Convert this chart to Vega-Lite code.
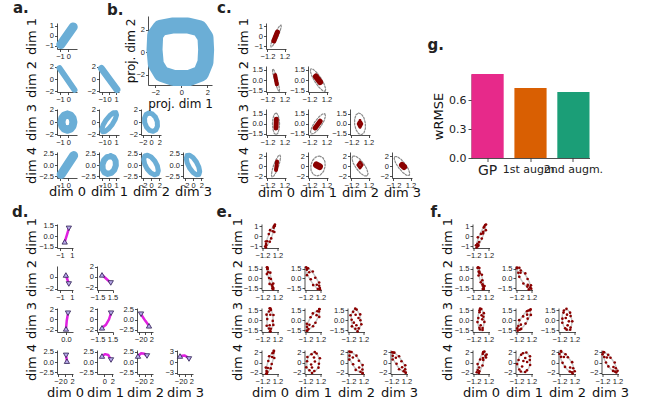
{
"$schema":"https://vega.github.io/schema/vega-lite/v6.json",
"background":"white",
"padding":{"left":12,"top":1,"right":2,"bottom":2},
"config":{
 "view":{"stroke":null},
 "axis":{"grid":false,"labelFont":"Liberation Sans","labelFontSize":7.5,"labelColor":"#222","labelPadding":1,"tickSize":2.5,"tickWidth":0.8,"tickColor":"#222","domainColor":"#222","domainWidth":0.8,"labelOverlap":false,"labelFlush":false,"titleFont":"DejaVu Sans","titleFontSize":13,"titleFontWeight":"normal","titleColor":"#111"},
 "title":{"font":"DejaVu Sans","fontSize":15,"fontWeight":"bold","color":"#222","anchor":"start","frame":"group","baseline":"alphabetic"},
 "line":{"strokeCap":"round","strokeJoin":"round"}
},
"datasets":{
 "A10":[{"o":0,"x":-0.9,"y":-0.9},{"o":1,"x":0.6,"y":0.9}],
 "A20":[{"o":0,"x":-1.05,"y":1.75},{"o":1,"x":0.75,"y":-1.75}],
 "A21":[{"o":0,"x":-1.1,"y":1.7},{"o":1,"x":1.1,"y":-1.7}],
 "A30":[{"o":0,"x":-0.1,"y":1.25},{"o":1,"x":0.26,"y":1.08},{"o":2,"x":0.52,"y":0.63},{"o":3,"x":0.62,"y":0},{"o":4,"x":0.52,"y":-0.63},{"o":5,"x":0.26,"y":-1.08},{"o":6,"x":-0.1,"y":-1.25},{"o":7,"x":-0.46,"y":-1.08},{"o":8,"x":-0.72,"y":-0.63},{"o":9,"x":-0.82,"y":0},{"o":10,"x":-0.72,"y":0.63},{"o":11,"x":-0.46,"y":1.08},{"o":12,"x":-0.1,"y":1.25}],
 "A31":[{"o":0,"x":0.95,"y":1.55},{"o":1,"x":1.05,"y":1.17},{"o":2,"x":0.86,"y":0.47},{"o":3,"x":0.45,"y":-0.35},{"o":4,"x":-0.09,"y":-1.08},{"o":5,"x":-0.6,"y":-1.52},{"o":6,"x":-0.95,"y":-1.55},{"o":7,"x":-1.05,"y":-1.17},{"o":8,"x":-0.86,"y":-0.47},{"o":9,"x":-0.45,"y":0.35},{"o":10,"x":0.09,"y":1.08},{"o":11,"x":0.6,"y":1.52},{"o":12,"x":0.95,"y":1.55}],
 "A32":[{"o":0,"x":-0.5,"y":1.5},{"o":1,"x":0.32,"y":1.35},{"o":2,"x":1.05,"y":0.84},{"o":3,"x":1.5,"y":0.1},{"o":4,"x":1.55,"y":-0.66},{"o":5,"x":1.18,"y":-1.25},{"o":6,"x":0.5,"y":-1.5},{"o":7,"x":-0.32,"y":-1.35},{"o":8,"x":-1.05,"y":-0.84},{"o":9,"x":-1.5,"y":-0.1},{"o":10,"x":-1.55,"y":0.66},{"o":11,"x":-1.18,"y":1.25},{"o":12,"x":-0.5,"y":1.5}],
 "A40":[{"o":0,"x":-0.85,"y":-2.1},{"o":1,"x":0.65,"y":2.1}],
 "A41":[{"o":0,"x":0.2,"y":2.0},{"o":1,"x":0.65,"y":1.68},{"o":2,"x":0.92,"y":0.91},{"o":3,"x":0.95,"y":-0.1},{"o":4,"x":0.72,"y":-1.09},{"o":5,"x":0.3,"y":-1.78},{"o":6,"x":-0.2,"y":-2.0},{"o":7,"x":-0.65,"y":-1.68},{"o":8,"x":-0.92,"y":-0.91},{"o":9,"x":-0.95,"y":0.1},{"o":10,"x":-0.72,"y":1.09},{"o":11,"x":-0.3,"y":1.78},{"o":12,"x":0.2,"y":2.0}],
 "A42":[{"o":0,"x":-1.5,"y":2.0},{"o":1,"x":-0.85,"y":2.18},{"o":2,"x":0.03,"y":1.78},{"o":3,"x":0.9,"y":0.9},{"o":4,"x":1.53,"y":-0.22},{"o":5,"x":1.75,"y":-1.28},{"o":6,"x":1.5,"y":-2.0},{"o":7,"x":0.85,"y":-2.18},{"o":8,"x":-0.03,"y":-1.78},{"o":9,"x":-0.9,"y":-0.9},{"o":10,"x":-1.53,"y":0.22},{"o":11,"x":-1.75,"y":1.28},{"o":12,"x":-1.5,"y":2.0}],
 "A43":[{"o":0,"x":-1.4,"y":2.1},{"o":1,"x":-0.81,"y":2.17},{"o":2,"x":-0.01,"y":1.66},{"o":3,"x":0.8,"y":0.7},{"o":4,"x":1.39,"y":-0.44},{"o":5,"x":1.61,"y":-1.47},{"o":6,"x":1.4,"y":-2.1},{"o":7,"x":0.81,"y":-2.17},{"o":8,"x":0.01,"y":-1.66},{"o":9,"x":-0.8,"y":-0.7},{"o":10,"x":-1.39,"y":0.44},{"o":11,"x":-1.61,"y":1.47},{"o":12,"x":-1.4,"y":2.1}],
 "B":[{"o":0,"x":-2.0,"y":1.5},{"o":1,"x":-1.6,"y":2.15},{"o":2,"x":-0.7,"y":2.35},{"o":3,"x":0.5,"y":2.35},{"o":4,"x":1.4,"y":2.1},{"o":5,"x":1.85,"y":1.3},{"o":6,"x":1.9,"y":0.2},{"o":7,"x":1.85,"y":-0.9},{"o":8,"x":1.5,"y":-1.9},{"o":9,"x":0.6,"y":-2.3},{"o":10,"x":-0.6,"y":-2.3},{"o":11,"x":-1.5,"y":-1.95},{"o":12,"x":-1.95,"y":-1.1},{"o":13,"x":-2.05,"y":0.2},{"o":14,"x":-2.0,"y":1.5}],
 "G":[{"m":"GP","v":0.869},{"m":"1st augm.","v":0.724},{"m":"2nd augm.","v":0.683}],
 "E10":[{"o":0,"x":0.7,"y":1.1},{"o":1,"x":0.73,"y":0.91},{"o":2,"x":0.57,"y":0.48},{"o":3,"x":0.25,"y":-0.08},{"o":4,"x":-0.13,"y":-0.62},{"o":5,"x":-0.48,"y":-0.99},{"o":6,"x":-0.7,"y":-1.1},{"o":7,"x":-0.73,"y":-0.91},{"o":8,"x":-0.57,"y":-0.48},{"o":9,"x":-0.25,"y":0.08},{"o":10,"x":0.13,"y":0.62},{"o":11,"x":0.48,"y":0.99},{"o":12,"x":0.7,"y":1.1}],
 "E20":[{"o":0,"x":0.45,"y":-1.6},{"o":1,"x":0.49,"y":-1.36},{"o":2,"x":0.4,"y":-0.75},{"o":3,"x":0.2,"y":0.06},{"o":4,"x":-0.05,"y":0.85},{"o":5,"x":-0.29,"y":1.42},{"o":6,"x":-0.45,"y":1.6},{"o":7,"x":-0.49,"y":1.36},{"o":8,"x":-0.4,"y":0.75},{"o":9,"x":-0.2,"y":-0.06},{"o":10,"x":0.05,"y":-0.85},{"o":11,"x":0.29,"y":-1.42},{"o":12,"x":0.45,"y":-1.6}],
 "E21":[{"o":0,"x":1.0,"y":-1.6},{"o":1,"x":1.08,"y":-1.26},{"o":2,"x":0.86,"y":-0.58},{"o":3,"x":0.42,"y":0.26},{"o":4,"x":-0.14,"y":1.03},{"o":5,"x":-0.66,"y":1.52},{"o":6,"x":-1.0,"y":1.6},{"o":7,"x":-1.08,"y":1.26},{"o":8,"x":-0.86,"y":0.58},{"o":9,"x":-0.42,"y":-0.26},{"o":10,"x":0.14,"y":-1.03},{"o":11,"x":0.66,"y":-1.52},{"o":12,"x":1.0,"y":-1.6}],
 "E30":[{"o":0,"x":0,"y":1.6},{"o":1,"x":0.25,"y":1.39},{"o":2,"x":0.43,"y":0.8},{"o":3,"x":0.5,"y":0},{"o":4,"x":0.43,"y":-0.8},{"o":5,"x":0.25,"y":-1.39},{"o":6,"x":0,"y":-1.6},{"o":7,"x":-0.25,"y":-1.39},{"o":8,"x":-0.43,"y":-0.8},{"o":9,"x":-0.5,"y":0},{"o":10,"x":-0.43,"y":0.8},{"o":11,"x":-0.25,"y":1.39},{"o":12,"x":0,"y":1.6}],
 "E31":[{"o":0,"x":0.95,"y":1.5},{"o":1,"x":1.05,"y":1.16},{"o":2,"x":0.87,"y":0.51},{"o":3,"x":0.45,"y":-0.28},{"o":4,"x":-0.09,"y":-0.99},{"o":5,"x":-0.6,"y":-1.44},{"o":6,"x":-0.95,"y":-1.5},{"o":7,"x":-1.05,"y":-1.16},{"o":8,"x":-0.87,"y":-0.51},{"o":9,"x":-0.45,"y":0.28},{"o":10,"x":0.09,"y":0.99},{"o":11,"x":0.6,"y":1.44},{"o":12,"x":0.95,"y":1.5}],
 "E32":[{"o":0,"x":-0.2,"y":1.6},{"o":1,"x":0.2,"y":1.44},{"o":2,"x":0.55,"y":0.89},{"o":3,"x":0.75,"y":0.1},{"o":4,"x":0.75,"y":-0.71},{"o":5,"x":0.55,"y":-1.34},{"o":6,"x":0.2,"y":-1.6},{"o":7,"x":-0.2,"y":-1.44},{"o":8,"x":-0.55,"y":-0.89},{"o":9,"x":-0.75,"y":-0.1},{"o":10,"x":-0.75,"y":0.71},{"o":11,"x":-0.55,"y":1.34},{"o":12,"x":-0.2,"y":1.6}],
 "E40":[{"o":0,"x":0.55,"y":2.2},{"o":1,"x":0.64,"y":1.83},{"o":2,"x":0.56,"y":0.96},{"o":3,"x":0.33,"y":-0.16},{"o":4,"x":0.01,"y":-1.24},{"o":5,"x":-0.31,"y":-1.99},{"o":6,"x":-0.55,"y":-2.2},{"o":7,"x":-0.64,"y":-1.83},{"o":8,"x":-0.56,"y":-0.96},{"o":9,"x":-0.33,"y":0.16},{"o":10,"x":-0.01,"y":1.24},{"o":11,"x":0.31,"y":1.99},{"o":12,"x":0.55,"y":2.2}],
 "E41":[{"o":0,"x":0.2,"y":2.0},{"o":1,"x":0.67,"y":1.68},{"o":2,"x":0.97,"y":0.91},{"o":3,"x":1.0,"y":-0.1},{"o":4,"x":0.77,"y":-1.09},{"o":5,"x":0.33,"y":-1.78},{"o":6,"x":-0.2,"y":-2.0},{"o":7,"x":-0.67,"y":-1.68},{"o":8,"x":-0.97,"y":-0.91},{"o":9,"x":-1.0,"y":0.1},{"o":10,"x":-0.77,"y":1.09},{"o":11,"x":-0.33,"y":1.78},{"o":12,"x":0.2,"y":2.0}],
 "E42":[{"o":0,"x":-1.0,"y":2.0},{"o":1,"x":-0.61,"y":1.97},{"o":2,"x":-0.05,"y":1.42},{"o":3,"x":0.52,"y":0.48},{"o":4,"x":0.95,"y":-0.58},{"o":5,"x":1.13,"y":-1.49},{"o":6,"x":1.0,"y":-2.0},{"o":7,"x":0.61,"y":-1.97},{"o":8,"x":0.05,"y":-1.42},{"o":9,"x":-0.52,"y":-0.48},{"o":10,"x":-0.95,"y":0.58},{"o":11,"x":-1.13,"y":1.49},{"o":12,"x":-1.0,"y":2.0}],
 "E43":[{"o":0,"x":-1.0,"y":1.9},{"o":1,"x":-0.64,"y":1.85},{"o":2,"x":-0.11,"y":1.3},{"o":3,"x":0.45,"y":0.4},{"o":4,"x":0.89,"y":-0.6},{"o":5,"x":1.09,"y":-1.45},{"o":6,"x":1.0,"y":-1.9},{"o":7,"x":0.64,"y":-1.85},{"o":8,"x":0.11,"y":-1.3},{"o":9,"x":-0.45,"y":-0.4},{"o":10,"x":-0.89,"y":0.6},{"o":11,"x":-1.09,"y":1.45},{"o":12,"x":-1.0,"y":1.9}],
 "C10":[{"o":0,"x":-0.3,"y":-0.5},{"o":1,"x":0.2,"y":0.4}],
 "C20":[{"o":0,"x":-0.12,"y":0.7},{"o":1,"x":0.12,"y":-0.6}],
 "C21":[{"o":0,"x":-0.3,"y":0.5},{"o":1,"x":0.3,"y":-0.3}],
 "C30":[{"o":0,"x":0,"y":-0.6},{"o":1,"x":0.05,"y":0.7}],
 "C31":[{"o":0,"x":-0.4,"y":-0.6},{"o":1,"x":0.3,"y":0.4}],
 "C32":[{"o":0,"x":0,"y":0.5},{"o":1,"x":0.25,"y":0},{"o":2,"x":0,"y":-0.5},{"o":3,"x":-0.25,"y":0},{"o":4,"x":0,"y":0.5}],
 "C40":[{"o":0,"x":0,"y":-0.8},{"o":1,"x":0.15,"y":0.9}],
 "C41":[{"o":0,"x":-0.2,"y":0.2},{"o":1,"x":0.2,"y":-0.1}],
 "C42":[{"o":0,"x":0,"y":0.8},{"o":1,"x":0.3,"y":0.2},{"o":2,"x":0,"y":-0.4},{"o":3,"x":-0.3,"y":0.2},{"o":4,"x":0,"y":0.8}],
 "C43":[{"o":0,"x":0,"y":0.2},{"o":1,"x":0.3,"y":-0.2}],
 "S10":[{"x":0.78,"y":1.2},{"x":0.63,"y":1.03},{"x":0.69,"y":0.43},{"x":0.19,"y":-0.22},{"x":-0.03,"y":-0.56},{"x":-0.6,"y":-0.91},{"x":-0.65,"y":-1.15},{"x":-0.63,"y":-0.79},{"x":-0.67,"y":-0.54},{"x":-0.19,"y":0.22},{"x":0.01,"y":0.62},{"x":0.58,"y":0.87},{"x":0.44,"y":0.51},{"x":-0.44,"y":-0.51},{"x":0.76,"y":1.05},{"x":-0.76,"y":-1.05}],
 "S20":[{"x":0.53,"y":-1.5},{"x":0.39,"y":-1.24},{"x":0.52,"y":-0.8},{"x":0.14,"y":-0.08},{"x":0.05,"y":0.91},{"x":-0.41,"y":1.5},{"x":-0.4,"y":1.7},{"x":-0.39,"y":1.48},{"x":-0.5,"y":0.69},{"x":-0.14,"y":0.08},{"x":-0.07,"y":-0.85},{"x":0.39,"y":-1.54},{"x":0.3,"y":-0.98},{"x":-0.3,"y":0.98},{"x":0.49,"y":-1.7},{"x":-0.49,"y":1.75}],
 "S21":[{"x":1.08,"y":-1.5},{"x":0.98,"y":-1.14},{"x":0.98,"y":-0.63},{"x":0.36,"y":0.12},{"x":-0.04,"y":1.09},{"x":-0.78,"y":1.6},{"x":-0.95,"y":1.5},{"x":-0.98,"y":1.38},{"x":-0.96,"y":0.52},{"x":-0.36,"y":-0.12},{"x":0.02,"y":-1.03},{"x":0.76,"y":-1.64},{"x":0.6,"y":-0.98},{"x":-0.6,"y":0.98},{"x":1.1,"y":-1.7},{"x":-1.08,"y":1.75}],
 "S30":[{"x":0.08,"y":1.7},{"x":0.15,"y":1.51},{"x":0.55,"y":0.75},{"x":0.44,"y":-0.14},{"x":0.53,"y":-0.74},{"x":0.13,"y":-1.31},{"x":0.05,"y":-1.7},{"x":-0.15,"y":-1.27},{"x":-0.53,"y":-0.86},{"x":-0.44,"y":0.14},{"x":-0.55,"y":0.8},{"x":-0.15,"y":1.27},{"x":0.05,"y":0.78},{"x":-0.05,"y":-0.78},{"x":-0.05,"y":1.75},{"x":0.02,"y":-1.68}],
 "S31":[{"x":1.03,"y":1.6},{"x":0.95,"y":1.28},{"x":0.99,"y":0.46},{"x":0.39,"y":-0.42},{"x":0.01,"y":-0.93},{"x":-0.72,"y":-1.36},{"x":-0.9,"y":-1.6},{"x":-0.95,"y":-1.04},{"x":-0.97,"y":-0.57},{"x":-0.39,"y":0.42},{"x":-0.03,"y":0.99},{"x":0.7,"y":1.32},{"x":0.57,"y":0.73},{"x":-0.57,"y":-0.73},{"x":1.0,"y":1.65},{"x":-1.0,"y":-1.62}],
 "S32":[{"x":-0.12,"y":1.7},{"x":0.1,"y":1.56},{"x":0.67,"y":0.84},{"x":0.69,"y":-0.04},{"x":0.85,"y":-0.65},{"x":0.43,"y":-1.26},{"x":0.25,"y":-1.7},{"x":-0.1,"y":-1.32},{"x":-0.65,"y":-0.95},{"x":-0.69,"y":0.04},{"x":-0.87,"y":0.71},{"x":-0.45,"y":1.22},{"x":-0.06,"y":0.78},{"x":0.06,"y":-0.78},{"x":0.4,"y":0.3},{"x":-0.35,"y":-0.4}],
 "S40":[{"x":0.63,"y":2.3},{"x":0.54,"y":1.95},{"x":0.68,"y":0.91},{"x":0.27,"y":-0.3},{"x":0.11,"y":-1.18},{"x":-0.43,"y":-1.91},{"x":-0.5,"y":-2.25},{"x":-0.54,"y":-1.71},{"x":-0.66,"y":-1.02},{"x":-0.27,"y":0.3},{"x":-0.13,"y":1.24},{"x":0.41,"y":1.87},{"x":0.35,"y":1.11},{"x":-0.35,"y":-1.11},{"x":0.6,"y":2.35},{"x":-0.59,"y":-2.2}],
 "S41":[{"x":0.28,"y":2.1},{"x":0.57,"y":1.8},{"x":1.09,"y":0.86},{"x":0.94,"y":-0.24},{"x":0.87,"y":-1.03},{"x":0.21,"y":-1.7},{"x":-0.15,"y":-2.1},{"x":-0.57,"y":-1.56},{"x":-1.07,"y":-0.97},{"x":-0.94,"y":0.24},{"x":-0.89,"y":1.09},{"x":-0.23,"y":1.66},{"x":0.16,"y":1.0},{"x":-0.16,"y":-1.0},{"x":0.3,"y":0.2},{"x":-0.3,"y":-0.4}],
 "S42":[{"x":-0.92,"y":2.1},{"x":-0.71,"y":2.09},{"x":0.07,"y":1.37},{"x":0.46,"y":0.34},{"x":1.05,"y":-0.52},{"x":1.01,"y":-1.41},{"x":1.05,"y":-2.1},{"x":0.71,"y":-1.85},{"x":-0.05,"y":-1.48},{"x":-0.46,"y":-0.34},{"x":-1.07,"y":0.58},{"x":-1.03,"y":1.37},{"x":-0.5,"y":1.0},{"x":0.5,"y":-1.0},{"x":-1.05,"y":2.2},{"x":1.05,"y":-2.2}],
 "S43":[{"x":-0.92,"y":2.0},{"x":-0.74,"y":1.97},{"x":0.01,"y":1.25},{"x":0.39,"y":0.26},{"x":0.99,"y":-0.54},{"x":0.97,"y":-1.37},{"x":1.05,"y":-2.0},{"x":0.74,"y":-1.73},{"x":0.01,"y":-1.36},{"x":-0.39,"y":-0.26},{"x":-1.01,"y":0.6},{"x":-0.99,"y":1.33},{"x":-0.5,"y":0.95},{"x":0.5,"y":-0.95},{"x":-1.08,"y":2.05},{"x":1.08,"y":-2.05}],
 "T10":[{"x":0.66,"y":1.14},{"x":0.77,"y":0.62},{"x":0.32,"y":0.29},{"x":0.12,"y":-0.24},{"x":-0.42,"y":-0.91},{"x":-0.49,"y":-1.02},{"x":-0.79,"y":-0.92},{"x":-0.57,"y":-0.77},{"x":-0.5,"y":-0.11},{"x":-0.01,"y":0.24},{"x":0.44,"y":0.88},{"x":0.51,"y":0.98},{"x":0.35,"y":0.45},{"x":-0.3,"y":-0.6},{"x":0.8,"y":1.2},{"x":-0.7,"y":-1.15}],
 "T20":[{"x":0.41,"y":-1.43},{"x":0.56,"y":-1.19},{"x":0.21,"y":-0.28},{"x":0.14,"y":0.59},{"x":-0.28,"y":1.09},{"x":-0.26,"y":1.62},{"x":-0.54,"y":1.65},{"x":-0.36,"y":1.04},{"x":-0.39,"y":0.46},{"x":-0.03,"y":-0.59},{"x":0.3,"y":-1.12},{"x":0.28,"y":-1.66},{"x":0.25,"y":-0.9},{"x":-0.2,"y":0.8},{"x":0.45,"y":-1.65},{"x":-0.45,"y":1.75}],
 "T21":[{"x":1.0,"y":-1.38},{"x":1.1,"y":-1.05},{"x":0.57,"y":-0.08},{"x":0.21,"y":0.79},{"x":-0.51,"y":1.24},{"x":-0.74,"y":1.67},{"x":-1.13,"y":1.6},{"x":-0.9,"y":0.9},{"x":-0.75,"y":0.26},{"x":-0.1,"y":-0.79},{"x":0.53,"y":-1.27},{"x":0.76,"y":-1.71},{"x":0.6,"y":-1.0},{"x":-0.55,"y":0.9},{"x":1.15,"y":-1.6},{"x":-1.1,"y":1.7}],
 "T30":[{"x":0.05,"y":1.65},{"x":0.45,"y":1.03},{"x":0.38,"y":0.49},{"x":0.54,"y":-0.29},{"x":0.25,"y":-1.21},{"x":0.25,"y":-1.49},{"x":-0.18,"y":-1.43},{"x":-0.25,"y":-1.18},{"x":-0.56,"y":-0.31},{"x":-0.43,"y":0.29},{"x":-0.23,"y":1.18},{"x":-0.23,"y":1.45},{"x":0.1,"y":0.7},{"x":-0.05,"y":-0.8},{"x":0.2,"y":0.1},{"x":-0.15,"y":1.7}],
 "T31":[{"x":0.95,"y":1.48},{"x":1.09,"y":0.76},{"x":0.58,"y":0.2},{"x":0.25,"y":-0.54},{"x":-0.45,"y":-1.34},{"x":-0.68,"y":-1.46},{"x":-1.08,"y":-1.26},{"x":-0.89,"y":-0.91},{"x":-0.76,"y":-0.02},{"x":-0.14,"y":0.54},{"x":0.47,"y":1.31},{"x":0.7,"y":1.42},{"x":0.5,"y":0.8},{"x":-0.5,"y":-0.7},{"x":1.05,"y":1.6},{"x":-1.0,"y":-1.6}],
 "T32":[{"x":-0.08,"y":1.67},{"x":0.49,"y":1.1},{"x":0.57,"y":0.59},{"x":0.84,"y":-0.2},{"x":0.57,"y":-1.14},{"x":0.51,"y":-1.46},{"x":-0.05,"y":-1.45},{"x":-0.29,"y":-1.25},{"x":-0.75,"y":-0.41},{"x":-0.73,"y":0.2},{"x":-0.55,"y":1.11},{"x":-0.49,"y":1.42},{"x":0.0,"y":0.8},{"x":0.1,"y":-0.8},{"x":-0.2,"y":0.3},{"x":0.3,"y":-0.2}],
 "T40":[{"x":0.54,"y":2.18},{"x":0.72,"y":1.34},{"x":0.36,"y":0.5},{"x":0.24,"y":-0.61},{"x":-0.26,"y":-1.75},{"x":-0.33,"y":-2.11},{"x":-0.67,"y":-1.96},{"x":-0.52,"y":-1.49},{"x":-0.54,"y":-0.32},{"x":-0.13,"y":0.61},{"x":0.28,"y":1.72},{"x":0.35,"y":2.07},{"x":0.8,"y":1.0},{"x":0.9,"y":1.6},{"x":-0.3,"y":-1.0},{"x":0.3,"y":0.9}],
 "T41":[{"x":0.37,"y":2.01},{"x":0.95,"y":1.24},{"x":0.92,"y":0.5},{"x":0.97,"y":-0.5},{"x":0.47,"y":-1.57},{"x":0.19,"y":-1.9},{"x":-0.5,"y":-1.79},{"x":-0.75,"y":-1.39},{"x":-1.1,"y":-0.32},{"x":-0.86,"y":0.5},{"x":-0.45,"y":1.54},{"x":-0.17,"y":1.86},{"x":0.2,"y":0.9},{"x":-0.3,"y":-0.8},{"x":0.5,"y":0.1},{"x":-0.1,"y":0.3}],
 "T42":[{"x":-0.91,"y":2.16},{"x":-0.24,"y":1.65},{"x":0.14,"y":1.06},{"x":0.82,"y":0.07},{"x":0.98,"y":-1.16},{"x":1.22,"y":-1.75},{"x":0.78,"y":-1.94},{"x":0.44,"y":-1.8},{"x":-0.32,"y":-0.88},{"x":-0.71,"y":-0.07},{"x":-0.96,"y":1.13},{"x":-1.2,"y":1.71},{"x":-0.5,"y":1.1},{"x":0.5,"y":-1.0},{"x":-0.95,"y":2.3},{"x":0.9,"y":-2.2}],
 "T43":[{"x":-0.93,"y":2.04},{"x":-0.29,"y":1.53},{"x":0.08,"y":0.96},{"x":0.75,"y":0.01},{"x":0.93,"y":-1.14},{"x":1.2,"y":-1.67},{"x":0.8,"y":-1.82},{"x":0.49,"y":-1.68},{"x":-0.26,"y":-0.78},{"x":-0.64,"y":-0.01},{"x":-0.91,"y":1.11},{"x":-1.18,"y":1.63},{"x":-0.5,"y":1.0},{"x":0.55,"y":-0.9},{"x":-1.05,"y":2.1},{"x":1.0,"y":-2.0}],
 "D10":[{"o":0,"m":"s","x":-0.2,"y":-0.8},{"o":1,"m":"","x":0.15,"y":0.1},{"o":2,"m":"e","x":0.5,"y":1.05}],
 "D20":[{"o":0,"m":"s","x":0.0,"y":0.3},{"o":1,"m":"","x":0.25,"y":-0.45},{"o":2,"m":"e","x":0.5,"y":-1.2}],
 "D21":[{"o":0,"m":"s","x":-0.6,"y":0.4},{"o":1,"m":"","x":0.25,"y":-0.35},{"o":2,"m":"e","x":1.15,"y":-1.15}],
 "D30":[{"o":0,"m":"s","x":0.0,"y":-1.8},{"o":1,"m":"","x":0.07,"y":-0.3},{"o":2,"m":"e","x":0.2,"y":1.2}],
 "D31":[{"o":0,"m":"s","x":-0.6,"y":-1.6},{"o":1,"m":"","x":0.2,"y":-1.0},{"o":2,"m":"","x":0.8,"y":0.0},{"o":3,"m":"e","x":1.2,"y":1.2}],
 "D32":[{"o":0,"m":"s","x":1.25,"y":-1.5},{"o":1,"m":"","x":0.1,"y":-0.3},{"o":2,"m":"e","x":-1.25,"y":1.3}],
 "D40":[{"o":0,"m":"s","x":0.55,"y":0.2},{"o":1,"m":"e","x":0.3,"y":1.6}],
 "D41":[{"o":0,"m":"s","x":-0.62,"y":1.45},{"o":1,"m":"","x":0.2,"y":1.9},{"o":2,"m":"","x":1.0,"y":1.7},{"o":3,"m":"e","x":1.69,"y":0.48}],
 "D42":[{"o":0,"m":"s","x":-2.19,"y":1.45},{"o":1,"m":"","x":-1.2,"y":2.1},{"o":2,"m":"","x":-0.2,"y":2.0},{"o":3,"m":"e","x":0.63,"y":1.45}],
 "D43":[{"o":0,"m":"s","x":-1.56,"y":1.65},{"o":1,"m":"","x":-0.2,"y":1.8},{"o":2,"m":"","x":0.6,"y":1.4},{"o":3,"m":"e","x":1.25,"y":0.83}]
},
"vconcat":[
 {"hconcat":[
  {"hconcat":[
   {"vconcat":[
    {"width":1,"height":1,"title":{"text":"a.","dx":-44,"offset":0},"data":{"values":[{}]},"mark":{"type":"point","opacity":0,"size":0}},
    {"concat":[
    {"width":20,"height":26,"data":{"name":"A10"},"mark":{"type":"line","color":"#6baed6","strokeWidth":9},"encoding":{"x":{"field":"x","type":"quantitative","scale":{"domain":[-1.35,1.05]},"axis":{"values":[-1,0],"format":".0f","title":null}},"y":{"field":"y","type":"quantitative","scale":{"domain":[-1.35,1.3]},"axis":{"values":[-1,0,1],"format":".0f","title":"dim 1","titleX":-19}},"order":{"field":"o"}}},
    {"width":20,"height":26,"data":{"values":[{}]},"mark":{"type":"point","opacity":0,"size":0}},
    {"width":20,"height":26,"data":{"values":[{}]},"mark":{"type":"point","opacity":0,"size":0}},
    {"width":20,"height":26,"data":{"values":[{}]},"mark":{"type":"point","opacity":0,"size":0}},
    {"width":20,"height":26,"data":{"name":"A20"},"mark":{"type":"line","color":"#6baed6","strokeWidth":6},"encoding":{"x":{"field":"x","type":"quantitative","scale":{"domain":[-1.35,1.05]},"axis":{"values":[-1,0],"format":".0f","title":null}},"y":{"field":"y","type":"quantitative","scale":{"domain":[-2.1,2.1]},"axis":{"values":[-2,0,2],"format":".0f","title":"dim 2","titleX":-19}},"order":{"field":"o"}}},
    {"width":20,"height":26,"data":{"name":"A21"},"mark":{"type":"line","color":"#6baed6","strokeWidth":7},"encoding":{"x":{"field":"x","type":"quantitative","scale":{"domain":[-1.45,1.4]},"axis":{"values":[-1,0,1],"format":".0f","title":null}},"y":{"field":"y","type":"quantitative","scale":{"domain":[-2.1,2.1]},"axis":{"values":[-2,0,2],"format":".0f","title":null}},"order":{"field":"o"}}},
    {"width":20,"height":26,"data":{"values":[{}]},"mark":{"type":"point","opacity":0,"size":0}},
    {"width":20,"height":26,"data":{"values":[{}]},"mark":{"type":"point","opacity":0,"size":0}},
    {"width":20,"height":26,"data":{"name":"A30"},"mark":{"type":"line","color":"#6baed6","strokeWidth":8},"encoding":{"x":{"field":"x","type":"quantitative","scale":{"domain":[-1.35,1.05]},"axis":{"values":[-1,0],"format":".0f","title":null}},"y":{"field":"y","type":"quantitative","scale":{"domain":[-2.1,2.15]},"axis":{"values":[-2,0,2],"format":".0f","title":"dim 3","titleX":-19}},"order":{"field":"o"}}},
    {"width":20,"height":26,"data":{"name":"A31"},"mark":{"type":"line","color":"#6baed6","strokeWidth":5},"encoding":{"x":{"field":"x","type":"quantitative","scale":{"domain":[-1.45,1.4]},"axis":{"values":[-1,0,1],"format":".0f","title":null}},"y":{"field":"y","type":"quantitative","scale":{"domain":[-2.1,2.15]},"axis":{"values":[-2,0,2],"format":".0f","title":null}},"order":{"field":"o"}}},
    {"width":20,"height":26,"data":{"name":"A32"},"mark":{"type":"line","color":"#6baed6","strokeWidth":5},"encoding":{"x":{"field":"x","type":"quantitative","scale":{"domain":[-2.4,2.4]},"axis":{"values":[-2,0,2],"format":".0f","title":null}},"y":{"field":"y","type":"quantitative","scale":{"domain":[-2.1,2.15]},"axis":{"values":[-2,0,2],"format":".0f","title":null}},"order":{"field":"o"}}},
    {"width":20,"height":26,"data":{"values":[{}]},"mark":{"type":"point","opacity":0,"size":0}},
    {"width":20,"height":26,"data":{"name":"A40"},"mark":{"type":"line","color":"#6baed6","strokeWidth":9},"encoding":{"x":{"field":"x","type":"quantitative","scale":{"domain":[-1.35,1.05]},"axis":{"values":[-1,0],"format":".0f","title":"dim 0","titleY":7.5}},"y":{"field":"y","type":"quantitative","scale":{"domain":[-2.9,2.9]},"axis":{"values":[-2.5,0,2.5],"format":".1f","title":"dim 4","titleX":-19}},"order":{"field":"o"}}},
    {"width":20,"height":26,"data":{"name":"A41"},"mark":{"type":"line","color":"#6baed6","strokeWidth":6},"encoding":{"x":{"field":"x","type":"quantitative","scale":{"domain":[-1.45,1.4]},"axis":{"values":[-1,0,1],"format":".0f","title":"dim 1","titleY":7.5}},"y":{"field":"y","type":"quantitative","scale":{"domain":[-2.9,2.9]},"axis":{"values":[-2.5,0,2.5],"format":".1f","title":null}},"order":{"field":"o"}}},
    {"width":20,"height":26,"data":{"name":"A42"},"mark":{"type":"line","color":"#6baed6","strokeWidth":5},"encoding":{"x":{"field":"x","type":"quantitative","scale":{"domain":[-2.4,2.4]},"axis":{"values":[-2,0,2],"format":".0f","title":"dim 2","titleY":7.5}},"y":{"field":"y","type":"quantitative","scale":{"domain":[-2.9,2.9]},"axis":{"values":[-2.5,0,2.5],"format":".1f","title":null}},"order":{"field":"o"}}},
    {"width":20,"height":26,"data":{"name":"A43"},"mark":{"type":"line","color":"#6baed6","strokeWidth":5},"encoding":{"x":{"field":"x","type":"quantitative","scale":{"domain":[-2.4,2.4]},"axis":{"values":[-2,0,2],"format":".0f","title":"dim 3","titleY":7.5}},"y":{"field":"y","type":"quantitative","scale":{"domain":[-2.9,2.9]},"axis":{"values":[-2.5,0,2.5],"format":".1f","title":null}},"order":{"field":"o"}}}
    ],"columns":4,"spacing":{"row":17,"column":22},"bounds":"flush"}
   ],"spacing":0},
   {"width":64,"height":69,"title":{"text":"b.","dx":-41,"offset":-2},"data":{"name":"B"},"mark":{"type":"line","color":"#6baed6","strokeWidth":16},"encoding":{"x":{"field":"x","type":"quantitative","scale":{"domain":[-2.55,2.35]},"axis":{"values":[-2,0,2],"format":".0f","title":"proj. dim 1","titleFontSize":12,"titleY":13}},"y":{"field":"y","type":"quantitative","scale":{"domain":[-2.93,3.2]},"axis":{"values":[-2,0,2],"format":".0f","title":"proj. dim 2","titleFontSize":12,"titleX":-11}},"order":{"field":"o"}}}
  ],"spacing":-105,"align":"none"},
  {"hconcat":[
   {"vconcat":[
    {"width":1,"height":1,"title":{"text":"c.","dx":-49,"offset":0},"data":{"values":[{}]},"mark":{"type":"point","opacity":0,"size":0}},
    {"concat":[
    {"width":20,"height":26,"encoding":{"x":{"field":"x","type":"quantitative","scale":{"domain":[-1.4,1.4]},"axis":{"values":[-1.2,1.2],"format":".1f","title":null}},"y":{"field":"y","type":"quantitative","scale":{"domain":[-1.3,1.3]},"axis":{"values":[-1,0,1],"format":".0f","title":"dim 1","titleX":-16}}},"layer":[{"data":{"name":"E10"},"mark":{"type":"line","color":"#8a8a8a","strokeWidth":1.2,"strokeDash":[2,1.5]},"encoding":{"order":{"field":"o"}}},{"data":{"name":"C10"},"mark":{"type":"line","color":"#8b0000","strokeWidth":5},"encoding":{"order":{"field":"o"}}}]},
    {"width":20,"height":26,"data":{"values":[{}]},"mark":{"type":"point","opacity":0,"size":0}},
    {"width":20,"height":26,"data":{"values":[{}]},"mark":{"type":"point","opacity":0,"size":0}},
    {"width":20,"height":26,"data":{"values":[{}]},"mark":{"type":"point","opacity":0,"size":0}},
    {"width":20,"height":26,"encoding":{"x":{"field":"x","type":"quantitative","scale":{"domain":[-1.4,1.4]},"axis":{"values":[-1.2,1.2],"format":".1f","title":null}},"y":{"field":"y","type":"quantitative","scale":{"domain":[-1.7,2.0]},"axis":{"values":[-1.5,0,1.5],"format":".1f","title":"dim 2","titleX":-16}}},"layer":[{"data":{"name":"E20"},"mark":{"type":"line","color":"#8a8a8a","strokeWidth":1.2,"strokeDash":[2,1.5]},"encoding":{"order":{"field":"o"}}},{"data":{"name":"C20"},"mark":{"type":"line","color":"#8b0000","strokeWidth":4},"encoding":{"order":{"field":"o"}}}]},
    {"width":20,"height":26,"encoding":{"x":{"field":"x","type":"quantitative","scale":{"domain":[-1.4,1.4]},"axis":{"values":[-1.2,1.2],"format":".1f","title":null}},"y":{"field":"y","type":"quantitative","scale":{"domain":[-1.7,2.0]},"axis":{"values":[-1.5,0,1.5],"format":".1f","title":null}}},"layer":[{"data":{"name":"E21"},"mark":{"type":"line","color":"#8a8a8a","strokeWidth":1.2,"strokeDash":[2,1.5]},"encoding":{"order":{"field":"o"}}},{"data":{"name":"C21"},"mark":{"type":"line","color":"#8b0000","strokeWidth":6},"encoding":{"order":{"field":"o"}}}]},
    {"width":20,"height":26,"data":{"values":[{}]},"mark":{"type":"point","opacity":0,"size":0}},
    {"width":20,"height":26,"data":{"values":[{}]},"mark":{"type":"point","opacity":0,"size":0}},
    {"width":20,"height":26,"encoding":{"x":{"field":"x","type":"quantitative","scale":{"domain":[-1.4,1.4]},"axis":{"values":[-1.2,1.2],"format":".1f","title":null}},"y":{"field":"y","type":"quantitative","scale":{"domain":[-1.65,2.2]},"axis":{"values":[-1.5,0,1.5],"format":".1f","title":"dim 3","titleX":-16}}},"layer":[{"data":{"name":"E30"},"mark":{"type":"line","color":"#8a8a8a","strokeWidth":1.2,"strokeDash":[2,1.5]},"encoding":{"order":{"field":"o"}}},{"data":{"name":"C30"},"mark":{"type":"line","color":"#8b0000","strokeWidth":5},"encoding":{"order":{"field":"o"}}}]},
    {"width":20,"height":26,"encoding":{"x":{"field":"x","type":"quantitative","scale":{"domain":[-1.4,1.4]},"axis":{"values":[-1.2,1.2],"format":".1f","title":null}},"y":{"field":"y","type":"quantitative","scale":{"domain":[-1.65,2.2]},"axis":{"values":[-1.5,0,1.5],"format":".1f","title":null}}},"layer":[{"data":{"name":"E31"},"mark":{"type":"line","color":"#8a8a8a","strokeWidth":1.2,"strokeDash":[2,1.5]},"encoding":{"order":{"field":"o"}}},{"data":{"name":"C31"},"mark":{"type":"line","color":"#8b0000","strokeWidth":5},"encoding":{"order":{"field":"o"}}}]},
    {"width":20,"height":26,"encoding":{"x":{"field":"x","type":"quantitative","scale":{"domain":[-1.4,1.4]},"axis":{"values":[-1.2,1.2],"format":".1f","title":null}},"y":{"field":"y","type":"quantitative","scale":{"domain":[-1.65,2.2]},"axis":{"values":[-1.5,0,1.5],"format":".1f","title":null}}},"layer":[{"data":{"name":"E32"},"mark":{"type":"line","color":"#8a8a8a","strokeWidth":1.2,"strokeDash":[2,1.5]},"encoding":{"order":{"field":"o"}}},{"data":{"name":"C32"},"mark":{"type":"line","color":"#8b0000","strokeWidth":3},"encoding":{"order":{"field":"o"}}}]},
    {"width":20,"height":26,"data":{"values":[{}]},"mark":{"type":"point","opacity":0,"size":0}},
    {"width":20,"height":26,"encoding":{"x":{"field":"x","type":"quantitative","scale":{"domain":[-1.4,1.4]},"axis":{"values":[-1.2,1.2],"format":".1f","title":"dim 0","titleY":8}},"y":{"field":"y","type":"quantitative","scale":{"domain":[-2.4,2.8]},"axis":{"values":[-2,0,2],"format":".0f","title":"dim 4","titleX":-16}}},"layer":[{"data":{"name":"E40"},"mark":{"type":"line","color":"#8a8a8a","strokeWidth":1.2,"strokeDash":[2,1.5]},"encoding":{"order":{"field":"o"}}},{"data":{"name":"C40"},"mark":{"type":"line","color":"#8b0000","strokeWidth":4},"encoding":{"order":{"field":"o"}}}]},
    {"width":20,"height":26,"encoding":{"x":{"field":"x","type":"quantitative","scale":{"domain":[-1.4,1.4]},"axis":{"values":[-1.2,1.2],"format":".1f","title":"dim 1","titleY":8}},"y":{"field":"y","type":"quantitative","scale":{"domain":[-2.4,2.8]},"axis":{"values":[-2,0,2],"format":".0f","title":null}}},"layer":[{"data":{"name":"E41"},"mark":{"type":"line","color":"#8a8a8a","strokeWidth":1.2,"strokeDash":[2,1.5]},"encoding":{"order":{"field":"o"}}},{"data":{"name":"C41"},"mark":{"type":"line","color":"#8b0000","strokeWidth":7},"encoding":{"order":{"field":"o"}}}]},
    {"width":20,"height":26,"encoding":{"x":{"field":"x","type":"quantitative","scale":{"domain":[-1.4,1.4]},"axis":{"values":[-1.2,1.2],"format":".1f","title":"dim 2","titleY":8}},"y":{"field":"y","type":"quantitative","scale":{"domain":[-2.4,2.8]},"axis":{"values":[-2,0,2],"format":".0f","title":null}}},"layer":[{"data":{"name":"E42"},"mark":{"type":"line","color":"#8a8a8a","strokeWidth":1.2,"strokeDash":[2,1.5]},"encoding":{"order":{"field":"o"}}},{"data":{"name":"C42"},"mark":{"type":"line","color":"#8b0000","strokeWidth":3},"encoding":{"order":{"field":"o"}}}]},
    {"width":20,"height":26,"encoding":{"x":{"field":"x","type":"quantitative","scale":{"domain":[-1.4,1.4]},"axis":{"values":[-1.2,1.2],"format":".1f","title":"dim 3","titleY":8}},"y":{"field":"y","type":"quantitative","scale":{"domain":[-2.4,2.8]},"axis":{"values":[-2,0,2],"format":".0f","title":null}}},"layer":[{"data":{"name":"E43"},"mark":{"type":"line","color":"#8a8a8a","strokeWidth":1.2,"strokeDash":[2,1.5]},"encoding":{"order":{"field":"o"}}},{"data":{"name":"C43"},"mark":{"type":"line","color":"#8b0000","strokeWidth":6},"encoding":{"order":{"field":"o"}}}]}
    ],"columns":4,"spacing":{"row":17,"column":22},"bounds":"flush"}
   ],"spacing":0},
   {"vconcat":[
    {"width":1,"height":1,"data":{"values":[{}]},"mark":{"type":"point","opacity":0,"size":0}},
    {"width":118,"height":84,"title":{"text":"g.","dx":-44,"offset":21},"data":{"name":"G"},"mark":{"type":"bar"},"encoding":{
     "x":{"field":"m","type":"nominal","sort":["GP","1st augm.","2nd augm."],"scale":{"paddingInner":0.25,"paddingOuter":0},"axis":{"title":null,"labelAngle":0,"labelFont":"DejaVu Sans","labelFontSize":{"condition":{"test":"datum.value==='GP'","value":14},"value":11},"tickSize":3.5,"labelPadding":2}},
     "y":{"field":"v","type":"quantitative","scale":{"domain":[0,0.87]},"axis":{"values":[0,0.3,0.6],"format":".1f","title":"wRMSE","titleFontSize":13,"labelFont":"DejaVu Sans","labelFontSize":11,"tickSize":3.5,"labelPadding":2,"titlePadding":3}},
     "color":{"field":"m","type":"nominal","scale":{"domain":["GP","1st augm.","2nd augm."],"range":["#e7298a","#d95f02","#1b9e77"]},"legend":null}}}
   ],"spacing":21}
  ],"spacing":6.5}
 ],"spacing":2},
 {"hconcat":[
  {"concat":[
   {"width":16,"height":24,"title":{"text":"d.","dx":-45,"offset":-2.5},"data":{"name":"D10"},"encoding":{"x":{"field":"x","type":"quantitative","scale":{"domain":[-1.5,1.2]},"axis":{"values":[-1,1],"format":".0f","title":null}},"y":{"field":"y","type":"quantitative","scale":{"domain":[-1.65,1.65]},"axis":{"values":[-1.5,0,1.5],"format":".1f","title":"dim 1","titleX":-19}}},"layer":[{"mark":{"type":"line","color":"#e020e0","strokeWidth":2.5},"encoding":{"order":{"field":"o"}}},{"transform":[{"filter":"datum.m==='s'"}],"mark":{"type":"point","shape":"triangle-up","filled":true,"fill":"#b8a9ea","stroke":"#2b1d4f","strokeWidth":0.8,"size":28,"opacity":1}},{"transform":[{"filter":"datum.m==='e'"}],"mark":{"type":"point","shape":"triangle-down","filled":true,"fill":"#b8a9ea","stroke":"#2b1d4f","strokeWidth":0.8,"size":28,"opacity":1}}]},
   {"width":16,"height":24,"data":{"values":[{}]},"mark":{"type":"point","opacity":0,"size":0}},
   {"width":16,"height":24,"data":{"values":[{}]},"mark":{"type":"point","opacity":0,"size":0}},
   {"width":16,"height":24,"data":{"values":[{}]},"mark":{"type":"point","opacity":0,"size":0}},
   {"width":16,"height":24,"data":{"name":"D20"},"encoding":{"x":{"field":"x","type":"quantitative","scale":{"domain":[-1.5,1.2]},"axis":{"values":[-1,1],"format":".0f","title":null}},"y":{"field":"y","type":"quantitative","scale":{"domain":[-2.2,1.8]},"axis":{"values":[-2,0],"format":".0f","title":"dim 2","titleX":-19}}},"layer":[{"mark":{"type":"line","color":"#e020e0","strokeWidth":2.5},"encoding":{"order":{"field":"o"}}},{"transform":[{"filter":"datum.m==='s'"}],"mark":{"type":"point","shape":"triangle-up","filled":true,"fill":"#b8a9ea","stroke":"#2b1d4f","strokeWidth":0.8,"size":28,"opacity":1}},{"transform":[{"filter":"datum.m==='e'"}],"mark":{"type":"point","shape":"triangle-down","filled":true,"fill":"#b8a9ea","stroke":"#2b1d4f","strokeWidth":0.8,"size":28,"opacity":1}}]},
   {"width":16,"height":24,"data":{"name":"D21"},"encoding":{"x":{"field":"x","type":"quantitative","scale":{"domain":[-1.6,1.6]},"axis":{"values":[-1.5,1.5],"format":".1f","title":null}},"y":{"field":"y","type":"quantitative","scale":{"domain":[-2.5,2.1]},"axis":{"values":[-2,0,2],"format":".0f","title":null}}},"layer":[{"mark":{"type":"line","color":"#e020e0","strokeWidth":2.5},"encoding":{"order":{"field":"o"}}},{"transform":[{"filter":"datum.m==='s'"}],"mark":{"type":"point","shape":"triangle-up","filled":true,"fill":"#b8a9ea","stroke":"#2b1d4f","strokeWidth":0.8,"size":28,"opacity":1}},{"transform":[{"filter":"datum.m==='e'"}],"mark":{"type":"point","shape":"triangle-down","filled":true,"fill":"#b8a9ea","stroke":"#2b1d4f","strokeWidth":0.8,"size":28,"opacity":1}}]},
   {"width":16,"height":24,"data":{"values":[{}]},"mark":{"type":"point","opacity":0,"size":0}},
   {"width":16,"height":24,"data":{"values":[{}]},"mark":{"type":"point","opacity":0,"size":0}},
   {"width":16,"height":24,"data":{"name":"D30"},"encoding":{"x":{"field":"x","type":"quantitative","scale":{"domain":[-0.9,0.7]},"axis":{"values":[0],"format":".1f","title":null}},"y":{"field":"y","type":"quantitative","scale":{"domain":[-2.4,2.2]},"axis":{"values":[-2,0,2],"format":".0f","title":"dim 3","titleX":-19}}},"layer":[{"mark":{"type":"line","color":"#e020e0","strokeWidth":2.5},"encoding":{"order":{"field":"o"}}},{"transform":[{"filter":"datum.m==='s'"}],"mark":{"type":"point","shape":"triangle-up","filled":true,"fill":"#b8a9ea","stroke":"#2b1d4f","strokeWidth":0.8,"size":28,"opacity":1}},{"transform":[{"filter":"datum.m==='e'"}],"mark":{"type":"point","shape":"triangle-down","filled":true,"fill":"#b8a9ea","stroke":"#2b1d4f","strokeWidth":0.8,"size":28,"opacity":1}}]},
   {"width":16,"height":24,"data":{"name":"D31"},"encoding":{"x":{"field":"x","type":"quantitative","scale":{"domain":[-1.6,1.6]},"axis":{"values":[-1.5,1.5],"format":".1f","title":null}},"y":{"field":"y","type":"quantitative","scale":{"domain":[-2.4,2.2]},"axis":{"values":[-2,0,2],"format":".0f","title":null}}},"layer":[{"mark":{"type":"line","color":"#e020e0","strokeWidth":2.5},"encoding":{"order":{"field":"o"}}},{"transform":[{"filter":"datum.m==='s'"}],"mark":{"type":"point","shape":"triangle-up","filled":true,"fill":"#b8a9ea","stroke":"#2b1d4f","strokeWidth":0.8,"size":28,"opacity":1}},{"transform":[{"filter":"datum.m==='e'"}],"mark":{"type":"point","shape":"triangle-down","filled":true,"fill":"#b8a9ea","stroke":"#2b1d4f","strokeWidth":0.8,"size":28,"opacity":1}}]},
   {"width":16,"height":24,"data":{"name":"D32"},"encoding":{"x":{"field":"x","type":"quantitative","scale":{"domain":[-2.5,2.5]},"axis":{"values":[-2,0,2],"format":".0f","title":null}},"y":{"field":"y","type":"quantitative","scale":{"domain":[-3,2.8]},"axis":{"values":[-2.5,0,2.5],"format":".1f","title":null}}},"layer":[{"mark":{"type":"line","color":"#e020e0","strokeWidth":2.5},"encoding":{"order":{"field":"o"}}},{"transform":[{"filter":"datum.m==='s'"}],"mark":{"type":"point","shape":"triangle-up","filled":true,"fill":"#b8a9ea","stroke":"#2b1d4f","strokeWidth":0.8,"size":28,"opacity":1}},{"transform":[{"filter":"datum.m==='e'"}],"mark":{"type":"point","shape":"triangle-down","filled":true,"fill":"#b8a9ea","stroke":"#2b1d4f","strokeWidth":0.8,"size":28,"opacity":1}}]},
   {"width":16,"height":24,"data":{"values":[{}]},"mark":{"type":"point","opacity":0,"size":0}},
   {"width":16,"height":24,"data":{"name":"D40"},"encoding":{"x":{"field":"x","type":"quantitative","scale":{"domain":[-2.3,2.3]},"axis":{"values":[-2,0,2],"format":".0f","title":"dim 0","titleY":12}},"y":{"field":"y","type":"quantitative","scale":{"domain":[-2.9,2.9]},"axis":{"values":[-2.5,0,2.5],"format":".1f","title":"dim 4","titleX":-19}}},"layer":[{"mark":{"type":"line","color":"#e020e0","strokeWidth":2.5},"encoding":{"order":{"field":"o"}}},{"transform":[{"filter":"datum.m==='s'"}],"mark":{"type":"point","shape":"triangle-up","filled":true,"fill":"#b8a9ea","stroke":"#2b1d4f","strokeWidth":0.8,"size":28,"opacity":1}},{"transform":[{"filter":"datum.m==='e'"}],"mark":{"type":"point","shape":"triangle-down","filled":true,"fill":"#b8a9ea","stroke":"#2b1d4f","strokeWidth":0.8,"size":28,"opacity":1}}]},
   {"width":16,"height":24,"data":{"name":"D41"},"encoding":{"x":{"field":"x","type":"quantitative","scale":{"domain":[-1.9,2.2]},"axis":{"values":[0,2],"format":".0f","title":"dim 1","titleY":12}},"y":{"field":"y","type":"quantitative","scale":{"domain":[-2.9,2.9]},"axis":{"values":[-2.5,0,2.5],"format":".1f","title":null}}},"layer":[{"mark":{"type":"line","color":"#e020e0","strokeWidth":2.5},"encoding":{"order":{"field":"o"}}},{"transform":[{"filter":"datum.m==='s'"}],"mark":{"type":"point","shape":"triangle-up","filled":true,"fill":"#b8a9ea","stroke":"#2b1d4f","strokeWidth":0.8,"size":28,"opacity":1}},{"transform":[{"filter":"datum.m==='e'"}],"mark":{"type":"point","shape":"triangle-down","filled":true,"fill":"#b8a9ea","stroke":"#2b1d4f","strokeWidth":0.8,"size":28,"opacity":1}}]},
   {"width":16,"height":24,"data":{"name":"D42"},"encoding":{"x":{"field":"x","type":"quantitative","scale":{"domain":[-2.5,2.5]},"axis":{"values":[-2,0,2],"format":".0f","title":"dim 2","titleY":12}},"y":{"field":"y","type":"quantitative","scale":{"domain":[-2.9,2.9]},"axis":{"values":[-2.5,0,2.5],"format":".1f","title":null}}},"layer":[{"mark":{"type":"line","color":"#e020e0","strokeWidth":2.5},"encoding":{"order":{"field":"o"}}},{"transform":[{"filter":"datum.m==='s'"}],"mark":{"type":"point","shape":"triangle-up","filled":true,"fill":"#b8a9ea","stroke":"#2b1d4f","strokeWidth":0.8,"size":28,"opacity":1}},{"transform":[{"filter":"datum.m==='e'"}],"mark":{"type":"point","shape":"triangle-down","filled":true,"fill":"#b8a9ea","stroke":"#2b1d4f","strokeWidth":0.8,"size":28,"opacity":1}}]},
   {"width":16,"height":24,"data":{"name":"D43"},"encoding":{"x":{"field":"x","type":"quantitative","scale":{"domain":[-2.5,2.5]},"axis":{"values":[-2,0,2],"format":".0f","title":"dim 3","titleY":12}},"y":{"field":"y","type":"quantitative","scale":{"domain":[-3.3,3.3]},"axis":{"values":[-3,0,3],"format":".0f","title":null}}},"layer":[{"mark":{"type":"line","color":"#e020e0","strokeWidth":2.5},"encoding":{"order":{"field":"o"}}},{"transform":[{"filter":"datum.m==='s'"}],"mark":{"type":"point","shape":"triangle-up","filled":true,"fill":"#b8a9ea","stroke":"#2b1d4f","strokeWidth":0.8,"size":28,"opacity":1}},{"transform":[{"filter":"datum.m==='e'"}],"mark":{"type":"point","shape":"triangle-down","filled":true,"fill":"#b8a9ea","stroke":"#2b1d4f","strokeWidth":0.8,"size":28,"opacity":1}}]}
  ],"columns":4,"spacing":{"row":18,"column":24},"bounds":"flush"},
  {"hconcat":[
   {"concat":[
    {"width":17,"height":24,"title":{"text":"e.","dx":-45,"offset":-2.5},"encoding":{"x":{"field":"x","type":"quantitative","scale":{"domain":[-1.35,1.35]},"axis":{"values":[-1.2,1.2],"format":".1f","title":null}},"y":{"field":"y","type":"quantitative","scale":{"domain":[-1.2,1.25]},"axis":{"values":[-1,0,1],"format":".0f","title":"dim 1","titleX":-17}}},"layer":[{"data":{"name":"E10"},"mark":{"type":"line","color":"#c4c4c4","strokeWidth":1.4},"encoding":{"order":{"field":"o"}}},{"data":{"name":"S10"},"mark":{"type":"circle","color":"#8b0000","size":7,"opacity":1}}]},
    {"width":17,"height":24,"data":{"values":[{}]},"mark":{"type":"point","opacity":0,"size":0}},
    {"width":17,"height":24,"data":{"values":[{}]},"mark":{"type":"point","opacity":0,"size":0}},
    {"width":17,"height":24,"data":{"values":[{}]},"mark":{"type":"point","opacity":0,"size":0}},
    {"width":17,"height":24,"encoding":{"x":{"field":"x","type":"quantitative","scale":{"domain":[-1.35,1.35]},"axis":{"values":[-1.2,1.2],"format":".1f","title":null}},"y":{"field":"y","type":"quantitative","scale":{"domain":[-1.8,1.95]},"axis":{"values":[-1.5,0,1.5],"format":".1f","title":"dim 2","titleX":-17}}},"layer":[{"data":{"name":"E20"},"mark":{"type":"line","color":"#c4c4c4","strokeWidth":1.4},"encoding":{"order":{"field":"o"}}},{"data":{"name":"S20"},"mark":{"type":"circle","color":"#8b0000","size":7,"opacity":1}}]},
    {"width":17,"height":24,"encoding":{"x":{"field":"x","type":"quantitative","scale":{"domain":[-1.35,1.35]},"axis":{"values":[-1.2,1.2],"format":".1f","title":null}},"y":{"field":"y","type":"quantitative","scale":{"domain":[-1.8,1.95]},"axis":{"values":[-1.5,0,1.5],"format":".1f","title":null}}},"layer":[{"data":{"name":"E21"},"mark":{"type":"line","color":"#c4c4c4","strokeWidth":1.4},"encoding":{"order":{"field":"o"}}},{"data":{"name":"S21"},"mark":{"type":"circle","color":"#8b0000","size":7,"opacity":1}}]},
    {"width":17,"height":24,"data":{"values":[{}]},"mark":{"type":"point","opacity":0,"size":0}},
    {"width":17,"height":24,"data":{"values":[{}]},"mark":{"type":"point","opacity":0,"size":0}},
    {"width":17,"height":24,"encoding":{"x":{"field":"x","type":"quantitative","scale":{"domain":[-1.35,1.35]},"axis":{"values":[-1.2,1.2],"format":".1f","title":null}},"y":{"field":"y","type":"quantitative","scale":{"domain":[-1.8,1.8]},"axis":{"values":[-1.5,0,1.5],"format":".1f","title":"dim 3","titleX":-17}}},"layer":[{"data":{"name":"E30"},"mark":{"type":"line","color":"#c4c4c4","strokeWidth":1.4},"encoding":{"order":{"field":"o"}}},{"data":{"name":"S30"},"mark":{"type":"circle","color":"#8b0000","size":7,"opacity":1}}]},
    {"width":17,"height":24,"encoding":{"x":{"field":"x","type":"quantitative","scale":{"domain":[-1.35,1.35]},"axis":{"values":[-1.2,1.2],"format":".1f","title":null}},"y":{"field":"y","type":"quantitative","scale":{"domain":[-1.8,1.8]},"axis":{"values":[-1.5,0,1.5],"format":".1f","title":null}}},"layer":[{"data":{"name":"E31"},"mark":{"type":"line","color":"#c4c4c4","strokeWidth":1.4},"encoding":{"order":{"field":"o"}}},{"data":{"name":"S31"},"mark":{"type":"circle","color":"#8b0000","size":7,"opacity":1}}]},
    {"width":17,"height":24,"encoding":{"x":{"field":"x","type":"quantitative","scale":{"domain":[-1.35,1.35]},"axis":{"values":[-1.2,1.2],"format":".1f","title":null}},"y":{"field":"y","type":"quantitative","scale":{"domain":[-1.8,1.8]},"axis":{"values":[-1.5,0,1.5],"format":".1f","title":null}}},"layer":[{"data":{"name":"E32"},"mark":{"type":"line","color":"#c4c4c4","strokeWidth":1.4},"encoding":{"order":{"field":"o"}}},{"data":{"name":"S32"},"mark":{"type":"circle","color":"#8b0000","size":7,"opacity":1}}]},
    {"width":17,"height":24,"data":{"values":[{}]},"mark":{"type":"point","opacity":0,"size":0}},
    {"width":17,"height":24,"encoding":{"x":{"field":"x","type":"quantitative","scale":{"domain":[-1.35,1.35]},"axis":{"values":[-1.2,1.2],"format":".1f","title":"dim 0","titleY":12}},"y":{"field":"y","type":"quantitative","scale":{"domain":[-2.3,2.5]},"axis":{"values":[-2,0,2],"format":".0f","title":"dim 4","titleX":-17}}},"layer":[{"data":{"name":"E40"},"mark":{"type":"line","color":"#c4c4c4","strokeWidth":1.4},"encoding":{"order":{"field":"o"}}},{"data":{"name":"S40"},"mark":{"type":"circle","color":"#8b0000","size":7,"opacity":1}}]},
    {"width":17,"height":24,"encoding":{"x":{"field":"x","type":"quantitative","scale":{"domain":[-1.35,1.35]},"axis":{"values":[-1.2,1.2],"format":".1f","title":"dim 1","titleY":12}},"y":{"field":"y","type":"quantitative","scale":{"domain":[-2.3,2.5]},"axis":{"values":[-2,0,2],"format":".0f","title":null}}},"layer":[{"data":{"name":"E41"},"mark":{"type":"line","color":"#c4c4c4","strokeWidth":1.4},"encoding":{"order":{"field":"o"}}},{"data":{"name":"S41"},"mark":{"type":"circle","color":"#8b0000","size":7,"opacity":1}}]},
    {"width":17,"height":24,"encoding":{"x":{"field":"x","type":"quantitative","scale":{"domain":[-1.35,1.35]},"axis":{"values":[-1.2,1.2],"format":".1f","title":"dim 2","titleY":12}},"y":{"field":"y","type":"quantitative","scale":{"domain":[-2.3,2.5]},"axis":{"values":[-2,0,2],"format":".0f","title":null}}},"layer":[{"data":{"name":"E42"},"mark":{"type":"line","color":"#c4c4c4","strokeWidth":1.4},"encoding":{"order":{"field":"o"}}},{"data":{"name":"S42"},"mark":{"type":"circle","color":"#8b0000","size":7,"opacity":1}}]},
    {"width":17,"height":24,"encoding":{"x":{"field":"x","type":"quantitative","scale":{"domain":[-1.35,1.35]},"axis":{"values":[-1.2,1.2],"format":".1f","title":"dim 3","titleY":12}},"y":{"field":"y","type":"quantitative","scale":{"domain":[-2.3,2.5]},"axis":{"values":[-2,0,2],"format":".0f","title":null}}},"layer":[{"data":{"name":"E43"},"mark":{"type":"line","color":"#c4c4c4","strokeWidth":1.4},"encoding":{"order":{"field":"o"}}},{"data":{"name":"S43"},"mark":{"type":"circle","color":"#8b0000","size":7,"opacity":1}}]}
   ],"columns":4,"spacing":{"row":18,"column":26},"bounds":"flush"},
   {"concat":[
    {"width":17,"height":24,"title":{"text":"f.","dx":-42,"offset":-2.5},"encoding":{"x":{"field":"x","type":"quantitative","scale":{"domain":[-1.35,1.35]},"axis":{"values":[-1.2,1.2],"format":".1f","title":null}},"y":{"field":"y","type":"quantitative","scale":{"domain":[-1.2,1.25]},"axis":{"values":[-1,0,1],"format":".0f","title":"dim 1","titleX":-18}}},"layer":[{"data":{"name":"E10"},"mark":{"type":"line","color":"#c4c4c4","strokeWidth":1.4},"encoding":{"order":{"field":"o"}}},{"data":{"name":"T10"},"mark":{"type":"circle","color":"#8b0000","size":7,"opacity":1}}]},
    {"width":17,"height":24,"data":{"values":[{}]},"mark":{"type":"point","opacity":0,"size":0}},
    {"width":17,"height":24,"data":{"values":[{}]},"mark":{"type":"point","opacity":0,"size":0}},
    {"width":17,"height":24,"data":{"values":[{}]},"mark":{"type":"point","opacity":0,"size":0}},
    {"width":17,"height":24,"encoding":{"x":{"field":"x","type":"quantitative","scale":{"domain":[-1.35,1.35]},"axis":{"values":[-1.2,1.2],"format":".1f","title":null}},"y":{"field":"y","type":"quantitative","scale":{"domain":[-1.8,1.95]},"axis":{"values":[-1.5,0,1.5],"format":".1f","title":"dim 2","titleX":-18}}},"layer":[{"data":{"name":"E20"},"mark":{"type":"line","color":"#c4c4c4","strokeWidth":1.4},"encoding":{"order":{"field":"o"}}},{"data":{"name":"T20"},"mark":{"type":"circle","color":"#8b0000","size":7,"opacity":1}}]},
    {"width":17,"height":24,"encoding":{"x":{"field":"x","type":"quantitative","scale":{"domain":[-1.35,1.35]},"axis":{"values":[-1.2,1.2],"format":".1f","title":null}},"y":{"field":"y","type":"quantitative","scale":{"domain":[-1.8,1.95]},"axis":{"values":[-1.5,0,1.5],"format":".1f","title":null}}},"layer":[{"data":{"name":"E21"},"mark":{"type":"line","color":"#c4c4c4","strokeWidth":1.4},"encoding":{"order":{"field":"o"}}},{"data":{"name":"T21"},"mark":{"type":"circle","color":"#8b0000","size":7,"opacity":1}}]},
    {"width":17,"height":24,"data":{"values":[{}]},"mark":{"type":"point","opacity":0,"size":0}},
    {"width":17,"height":24,"data":{"values":[{}]},"mark":{"type":"point","opacity":0,"size":0}},
    {"width":17,"height":24,"encoding":{"x":{"field":"x","type":"quantitative","scale":{"domain":[-1.35,1.35]},"axis":{"values":[-1.2,1.2],"format":".1f","title":null}},"y":{"field":"y","type":"quantitative","scale":{"domain":[-1.8,1.8]},"axis":{"values":[-1.5,0,1.5],"format":".1f","title":"dim 3","titleX":-18}}},"layer":[{"data":{"name":"E30"},"mark":{"type":"line","color":"#c4c4c4","strokeWidth":1.4},"encoding":{"order":{"field":"o"}}},{"data":{"name":"T30"},"mark":{"type":"circle","color":"#8b0000","size":7,"opacity":1}}]},
    {"width":17,"height":24,"encoding":{"x":{"field":"x","type":"quantitative","scale":{"domain":[-1.35,1.35]},"axis":{"values":[-1.2,1.2],"format":".1f","title":null}},"y":{"field":"y","type":"quantitative","scale":{"domain":[-1.8,1.8]},"axis":{"values":[-1.5,0,1.5],"format":".1f","title":null}}},"layer":[{"data":{"name":"E31"},"mark":{"type":"line","color":"#c4c4c4","strokeWidth":1.4},"encoding":{"order":{"field":"o"}}},{"data":{"name":"T31"},"mark":{"type":"circle","color":"#8b0000","size":7,"opacity":1}}]},
    {"width":17,"height":24,"encoding":{"x":{"field":"x","type":"quantitative","scale":{"domain":[-1.35,1.35]},"axis":{"values":[-1.2,1.2],"format":".1f","title":null}},"y":{"field":"y","type":"quantitative","scale":{"domain":[-1.8,1.8]},"axis":{"values":[-1.5,0,1.5],"format":".1f","title":null}}},"layer":[{"data":{"name":"E32"},"mark":{"type":"line","color":"#c4c4c4","strokeWidth":1.4},"encoding":{"order":{"field":"o"}}},{"data":{"name":"T32"},"mark":{"type":"circle","color":"#8b0000","size":7,"opacity":1}}]},
    {"width":17,"height":24,"data":{"values":[{}]},"mark":{"type":"point","opacity":0,"size":0}},
    {"width":17,"height":24,"encoding":{"x":{"field":"x","type":"quantitative","scale":{"domain":[-1.35,1.35]},"axis":{"values":[-1.2,1.2],"format":".1f","title":"dim 0","titleY":12}},"y":{"field":"y","type":"quantitative","scale":{"domain":[-2.3,2.5]},"axis":{"values":[-2,0,2],"format":".0f","title":"dim 4","titleX":-18}}},"layer":[{"data":{"name":"E40"},"mark":{"type":"line","color":"#c4c4c4","strokeWidth":1.4},"encoding":{"order":{"field":"o"}}},{"data":{"name":"T40"},"mark":{"type":"circle","color":"#8b0000","size":7,"opacity":1}}]},
    {"width":17,"height":24,"encoding":{"x":{"field":"x","type":"quantitative","scale":{"domain":[-1.35,1.35]},"axis":{"values":[-1.2,1.2],"format":".1f","title":"dim 1","titleY":12}},"y":{"field":"y","type":"quantitative","scale":{"domain":[-2.3,2.5]},"axis":{"values":[-2,0,2],"format":".0f","title":null}}},"layer":[{"data":{"name":"E41"},"mark":{"type":"line","color":"#c4c4c4","strokeWidth":1.4},"encoding":{"order":{"field":"o"}}},{"data":{"name":"T41"},"mark":{"type":"circle","color":"#8b0000","size":7,"opacity":1}}]},
    {"width":17,"height":24,"encoding":{"x":{"field":"x","type":"quantitative","scale":{"domain":[-1.35,1.35]},"axis":{"values":[-1.2,1.2],"format":".1f","title":"dim 2","titleY":12}},"y":{"field":"y","type":"quantitative","scale":{"domain":[-2.3,2.5]},"axis":{"values":[-2,0,2],"format":".0f","title":null}}},"layer":[{"data":{"name":"E42"},"mark":{"type":"line","color":"#c4c4c4","strokeWidth":1.4},"encoding":{"order":{"field":"o"}}},{"data":{"name":"T42"},"mark":{"type":"circle","color":"#8b0000","size":7,"opacity":1}}]},
    {"width":17,"height":24,"encoding":{"x":{"field":"x","type":"quantitative","scale":{"domain":[-1.35,1.35]},"axis":{"values":[-1.2,1.2],"format":".1f","title":"dim 3","titleY":12}},"y":{"field":"y","type":"quantitative","scale":{"domain":[-2.3,2.5]},"axis":{"values":[-2,0,2],"format":".0f","title":null}}},"layer":[{"data":{"name":"E43"},"mark":{"type":"line","color":"#c4c4c4","strokeWidth":1.4},"encoding":{"order":{"field":"o"}}},{"data":{"name":"T43"},"mark":{"type":"circle","color":"#8b0000","size":7,"opacity":1}}]}
   ],"columns":4,"spacing":{"row":18,"column":26},"bounds":"flush"}
  ],"spacing":13}
 ],"spacing":12.5}
],
"spacing":6
}
